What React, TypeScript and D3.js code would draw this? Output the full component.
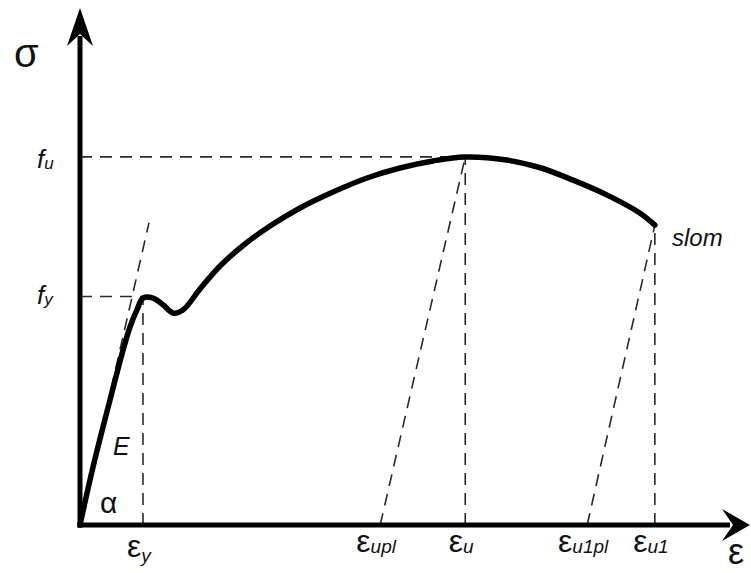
import React from "react";
import * as d3 from "d3";

// strain (ε) and stress (σ) of the curve, arbitrary units (0..100)
const curveStrain = [0, 1.94, 4.48, 6.42, 7.46, 8.5, 9.4, 10.9, 12.4, 13.9, 15.37, 17.91, 20.9, 24.63, 28.36, 32.84, 37.76, 42.84, 47.76, 52.69, 57.46, 63.7, 68.7, 73.6, 78.7, 83.6, 85.8];
const curveStress = [0, 11.2, 24.2, 33.8, 38.3, 41.6, 43.9, 43.9, 42.6, 41.0, 41.59, 45.65, 50.1, 54.35, 57.83, 61.32, 64.41, 67.12, 69.05, 70.41, 71.18, 70.6, 69.1, 66.7, 63.8, 60.3, 58.0];

// characteristic strains (x ticks)
const tickSubs = ["y", "upl", "u", "u1pl", "u1"];
const tickStrains = [9.4, 44.8, 57.5, 75.7, 85.8];

// characteristic stresses (y ticks)
const stressSubs = ["u", "y"];
const stressValues = [71.2, 44.2];

const epsY = 9.4, epsUpl = 44.8, epsU = 57.5, epsU1pl = 75.7, epsU1 = 85.8;
const fy = 44.2, fu = 71.2, fSlom = 58.0;
const elasticTopStrain = 10.3, elasticTopStress = 58.5;

const W = 751, H = 573;
const x = d3.scaleLinear().domain([0, 100]).range([80, 750]);
const y = d3.scaleLinear().domain([0, 100]).range([525, 8]);

const FONT = "'Liberation Sans', Arial, sans-serif";

export default function App() {
  const pts: [number, number][] = curveStrain.map((e, i) => [e, curveStress[i]]);
  const line = d3.line<[number, number]>().x(d => x(d[0])).y(d => y(d[1])).curve(d3.curveCatmullRom.alpha(0.5));

  const dashed: [number, number, number, number][] = [
    [0, 0, elasticTopStrain, elasticTopStress],
    [0, fy, epsY, fy],
    [epsY, 0, epsY, fy],
    [0, fu, epsU, fu],
    [epsU, 0, epsU, fu],
    [epsUpl, 0, epsU, fu],
    [epsU1, 0, epsU1, fSlom],
    [epsU1pl, 0, epsU1, fSlom],
  ];

  const x0 = x(0), y0 = y(0), yTop = y(100), xEnd = x(100);

  return (
    <svg width={W} height={H} style={{ position: "fixed", left: 0, top: 0, background: "#fff" }} fontFamily={FONT}>
      {dashed.map((d, i) => (
        <line key={i} x1={x(d[0])} y1={y(d[1])} x2={x(d[2])} y2={y(d[3])}
          stroke="#2a2a2a" strokeWidth={1.6} strokeDasharray="12,8" />
      ))}
      {/* axes */}
      <line x1={x0} y1={y0 + 2.5} x2={x0} y2={yTop + 28} stroke="#000" strokeWidth={5} />
      <line x1={x0 - 2.5} y1={y0} x2={xEnd - 20} y2={y0} stroke="#000" strokeWidth={5} />
      <path d={`M${x0},${yTop} L${x0 + 13},${yTop + 38} L${x0},${yTop + 26} L${x0 - 13},${yTop + 38} Z`} fill="#000" />
      <path d={`M${xEnd},${y0} L${xEnd - 28},${y0 - 16} L${xEnd - 17},${y0} L${xEnd - 28},${y0 + 16} Z`} fill="#000" />
      {/* curve */}
      <path d={line(pts) || ""} fill="none" stroke="#000" strokeWidth={5.5} strokeLinejoin="round" strokeLinecap="round" />

      {/* axis titles */}
      <text x={14} y={67} fontSize={40} fill="#111">σ</text>
      <text x={736} y={564} fontSize={36} fill="#111" textAnchor="middle">ε</text>

      {/* stress labels */}
      {stressSubs.map((s, i) => (
        <text key={s} x={37} y={y(stressValues[i]) + (i === 0 ? 11 : 8)} fontSize={26} fontStyle="italic" fill="#111">
          f<tspan fontSize={17} dy={1}>{s}</tspan>
        </text>
      ))}

      {/* strain tick labels */}
      {tickSubs.map((s, i) => (
        <text key={s} x={x(tickStrains[i]) - 4} y={i === 0 ? 557 : 552} fontSize={32} fill="#111" textAnchor="middle">
          ε<tspan fontSize={19} fontStyle="italic" dy={i === 0 ? 5 : 1}>{s}</tspan>
        </text>
      ))}

      <text x={113} y={455} fontSize={25} fontStyle="italic" fill="#111">E</text>
      <text x={100} y={513} fontSize={30} fill="#111">α</text>
      <text x={672} y={246} fontSize={24} fontStyle="italic" fill="#111">slom</text>
    </svg>
  );
}
